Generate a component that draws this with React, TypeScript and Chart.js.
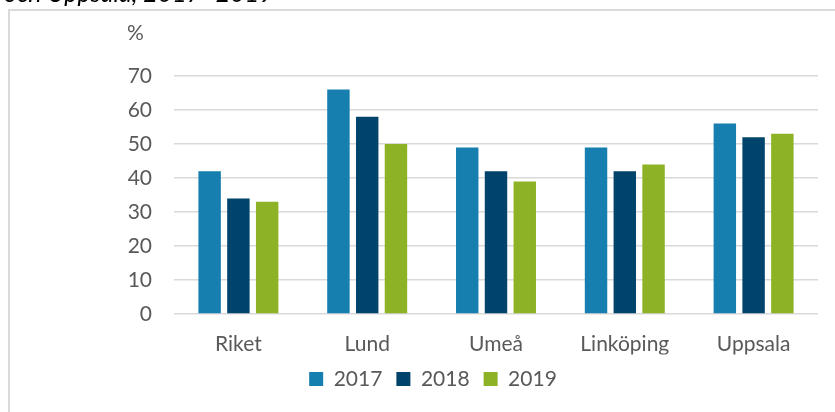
import React, { useEffect, useRef } from "react";
import { Chart, registerables } from "chart.js";

Chart.register(...registerables);

const categories = ["Riket", "Lund", "Umeå", "Linköping", "Uppsala"];
const seriesLabels = ["2017", "2018", "2019"];
const values2017 = [42, 66, 49, 49, 56];
const values2018 = [34, 58, 42, 42, 52];
const values2019 = [33, 50, 39, 44, 53];
const seriesColors = ["#177EB0", "#00436B", "#8DB226"];
const yMin = 0;
const yMax = 70;
const yStep = 10;
const titleText = "och Uppsala, 2017–2019";
const unitLabel = "%";

const FONT = "Lato, 'Open Sans', sans-serif";
const TEXT = "#595959";

const decorPlugin = {
  id: "decor",
  beforeDraw(chart: any) {
    const ctx = chart.ctx;
    ctx.save();
    ctx.fillStyle = "#ffffff";
    ctx.fillRect(0, 0, chart.width, chart.height);
    ctx.strokeStyle = "#d9d9d9";
    ctx.lineWidth = 2;
    ctx.strokeRect(9, 10, 900, 500);
    ctx.fillStyle = TEXT;
    ctx.font = `21px ${FONT}`;
    ctx.textAlign = "center";
    ctx.textBaseline = "middle";
    ctx.fillText(unitLabel, 135.5, 33);
    ctx.restore();
  },
};

export default function App() {
  const ref = useRef<HTMLCanvasElement | null>(null);

  useEffect(() => {
    if (!ref.current) return;
    const data = [values2017, values2018, values2019];
    const chart = new Chart(ref.current, {
      type: "bar",
      data: {
        labels: categories,
        datasets: seriesLabels.map((label, i) => ({
          label,
          data: data[i],
          backgroundColor: seriesColors[i],
          borderWidth: 0,
          categoryPercentage: 0.67,
          barPercentage: 0.78,
        })),
      },
      options: {
        animation: false,
        responsive: false,
        maintainAspectRatio: false,
        devicePixelRatio: 1,
        layout: { padding: { left: 48, right: 17, top: 76, bottom: 12.5 } },
        plugins: {
          legend: {
            position: "bottom",
            labels: {
              boxWidth: 14,
              boxHeight: 14,
              padding: 14,
              color: TEXT,
              font: { family: FONT, size: 21 },
            },
          },
          tooltip: { enabled: false },
        },
        scales: {
          x: {
            grid: { display: false, drawTicks: false },
            border: { display: false },
            ticks: { color: TEXT, font: { family: FONT, size: 21 }, padding: 18 },
            afterFit: (s: any) => {
              s.height = 40.5;
            },
          },
          y: {
            min: yMin,
            max: yMax,
            ticks: { stepSize: yStep, padding: 22, color: TEXT, font: { family: FONT, size: 21 } },
            grid: { color: "#d9d9d9", lineWidth: 1.5, drawTicks: false },
            border: { display: false },
            afterFit: (s: any) => {
              s.width = 126;
            },
          },
        },
      },
      plugins: [decorPlugin],
    });
    return () => chart.destroy();
  }, []);

  return (
    <div style={{ position: "fixed", left: 0, top: 0, width: 835, height: 412, overflow: "hidden", background: "#fff" }}>
      <canvas ref={ref} width={835} height={412} style={{ position: "absolute", left: 0, top: 0, width: 835, height: 412 }} />
      <div
        style={{
          position: "absolute",
          left: 4,
          top: -21,
          fontFamily: FONT,
          fontStyle: "italic",
          fontSize: 25,
          lineHeight: "26px",
          color: "#000",
          whiteSpace: "nowrap",
        }}
      >
        {titleText}
      </div>
    </div>
  );
}
